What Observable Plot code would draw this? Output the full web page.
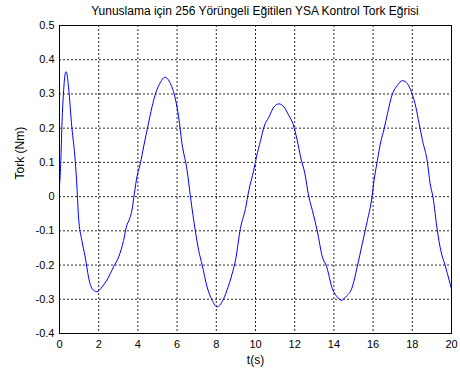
<!DOCTYPE html>
<html>
<head>
<meta charset="utf-8">
<script src="https://cdn.jsdelivr.net/npm/d3@7"></script>
<script src="https://cdn.jsdelivr.net/npm/@observablehq/plot@0.6"></script>
<style>
  html, body { margin: 0; padding: 0; background: white; }
  #title { width: 460px; height: 20px; box-sizing: border-box; padding-left: 59px; padding-right: 9px;
           text-align: center; font-family: "Liberation Sans", Arial, sans-serif; font-size: 12px;
           line-height: 22px; color: black; white-space: nowrap; }
</style>
</head>
<body>
<div id="title"></div>
<div id="chart"></div>
<script>
const titleText = "Yunuslama için 256 Yörüngeli Eğitilen YSA Kontrol Tork Eğrisi";
const xLabel = "t(s)";
const yLabel = "Tork (Nm)";
const xTicks = [0, 2, 4, 6, 8, 10, 12, 14, 16, 18, 20];
const yTicks = [-0.4, -0.3, -0.2, -0.1, 0, 0.1, 0.2, 0.3, 0.4, 0.5];

const time = [0, 0.07, 0.12, 0.2, 0.29, 0.33, 0.38, 0.46, 0.63, 0.8, 0.89, 0.97, 1.14, 1.31, 1.48, 1.66, 1.91, 2.17, 2.42, 2.76, 3.02, 3.27, 3.41, 3.58, 3.7, 3.82, 3.95, 4.12, 4.29, 4.5, 4.72, 4.89, 5.15, 5.38, 5.66, 5.91, 6.08, 6.25, 6.51, 6.68, 6.93, 7.1, 7.28, 7.53, 7.79, 8.04, 8.3, 8.55, 8.81, 8.98, 9.23, 9.49, 9.66, 9.91, 10.05, 10.26, 10.43, 10.68, 10.94, 11.19, 11.45, 11.7, 11.91, 12.13, 12.3, 12.52, 12.72, 12.9, 13.15, 13.41, 13.63, 13.92, 14.17, 14.38, 14.6, 14.94, 15.19, 15.45, 15.71, 15.92, 16.05, 16.22, 16.39, 16.56, 16.73, 16.98, 17.24, 17.5, 17.75, 17.96, 18.18, 18.35, 18.52, 18.77, 18.91, 19.05, 19.28, 19.45, 19.67, 19.88, 20];
const torque = [0.03, 0.106, 0.203, 0.3, 0.359, 0.365, 0.359, 0.32, 0.203, 0.106, 0.028, -0.06, -0.128, -0.176, -0.235, -0.269, -0.278, -0.264, -0.244, -0.205, -0.176, -0.128, -0.089, -0.064, -0.039, 0.009, 0.057, 0.096, 0.145, 0.203, 0.262, 0.299, 0.334, 0.349, 0.33, 0.286, 0.232, 0.155, 0.077, 0, -0.1, -0.157, -0.2, -0.264, -0.303, -0.322, -0.307, -0.273, -0.225, -0.186, -0.093, -0.035, 0.018, 0.077, 0.116, 0.164, 0.203, 0.232, 0.262, 0.271, 0.262, 0.237, 0.213, 0.164, 0.116, 0.067, 0, -0.04, -0.1, -0.176, -0.205, -0.269, -0.293, -0.303, -0.293, -0.264, -0.205, -0.137, -0.069, -0.01, 0.048, 0.106, 0.16, 0.197, 0.242, 0.299, 0.325, 0.339, 0.33, 0.305, 0.262, 0.213, 0.164, 0.101, 0.038, 0, -0.1, -0.157, -0.2, -0.244, -0.27];

const data = time.map((t, i) => ({t, v: torque[i]}));
const fmt = d => String(Math.round(d * 10) / 10);

document.getElementById("title").textContent = titleText;

const chart = Plot.plot({
  width: 460,
  height: 353,
  marginTop: 5,
  marginBottom: 40,
  marginLeft: 59,
  marginRight: 9,
  style: {fontFamily: "'Liberation Sans', Arial, sans-serif", fontSize: "11px", background: "white", color: "black"},
  x: {domain: [0, 20]},
  y: {domain: [-0.4, 0.5]},
  marks: [
    Plot.gridX(xTicks.slice(1, -1), {stroke: "black", strokeOpacity: 0.85, strokeDasharray: "2,2"}),
    Plot.gridY(yTicks.slice(1, -1), {stroke: "black", strokeOpacity: 0.85, strokeDasharray: "2,2"}),
    Plot.axisX(xTicks, {tickSize: 0, tickPadding: 7, tickFormat: fmt, label: null, fontSize: 11}),
    Plot.axisY(yTicks, {tickSize: 0, tickPadding: 5, tickFormat: fmt, label: null, fontSize: 11}),
    Plot.line(data, {x: "t", y: "v", stroke: "#0000ff", strokeWidth: 1, curve: "monotone-x"}),
    Plot.frame({stroke: "black", strokeWidth: 1}),
    Plot.text([xLabel], {text: d => d, frameAnchor: "bottom", dy: 30, fontSize: 12}),
    Plot.text([yLabel], {text: d => d, frameAnchor: "left", rotate: -90, dx: -39, fontSize: 12})
  ]
});
document.getElementById("chart").appendChild(chart);
</script>
</body>
</html>
